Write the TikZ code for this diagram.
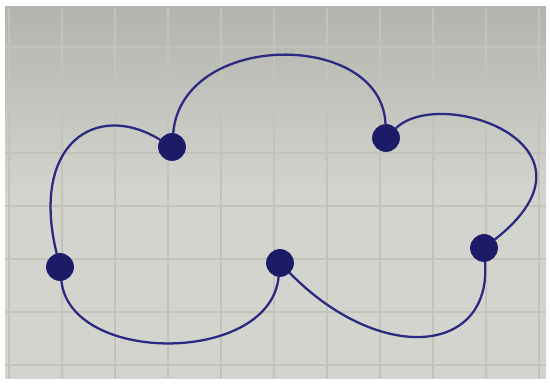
\documentclass[tikz,border=0pt]{standalone}
\usetikzlibrary{shapes.geometric}
\definecolor{ink}{HTML}{2A2A82}
\definecolor{inkdot}{HTML}{1B1B68}
\definecolor{paper}{HTML}{D4D4CE}
\definecolor{paperdark}{HTML}{B4B4AE}
\definecolor{gridline}{HTML}{C3C3BC}
\tikzset{
  vertex/.style={circle, fill=inkdot, draw=inkdot, minimum size=0.54cm, inner sep=0pt},
  edge/.style={ink, line width=1.3pt, line cap=round},
}
\begin{document}
\begin{tikzpicture}[x=0.02cm, y=0.02cm]
  \useasboundingbox (0,0) rectangle (550,385);
  % sheet of squared paper
  \fill[white] (0,0) rectangle (550,385);
  \shade[top color=paperdark, bottom color=paper, middle color=paper] (5,7) rectangle (546,378);
  \begin{scope}
    \clip (5,7) rectangle (546,378);
    \foreach \x in {9,62,...,540} {
      \draw[gridline, line width=0.7pt] (\x,7) -- (\x,378);
    }
    \foreach \y in {20,73,...,340} {
      \draw[gridline, line width=0.7pt] (5,\y) -- (546,\y);
    }
  \end{scope}

  % the five vertices
  \node[vertex] (a) at (172,238) {};
  \node[vertex] (b) at (386,247) {};
  \node[vertex] (c) at (484,137) {};
  \node[vertex] (d) at (280,122) {};
  \node[vertex] (e) at (60,118) {};

  % the cycle a-b-c-d-e
  \draw[edge] (a) .. controls (182,355) and (382,355) .. (b);
  \draw[edge] (b) .. controls (440,300) and (615,240) .. (c);
  \draw[edge] (c) .. controls (492,30) and (380,20) .. (d);
  \draw[edge] (d) .. controls (270,20) and (70,20) .. (e);
  \draw[edge] (e) .. controls (30,240) and (95,285) .. (a);
\end{tikzpicture}
\end{document}
